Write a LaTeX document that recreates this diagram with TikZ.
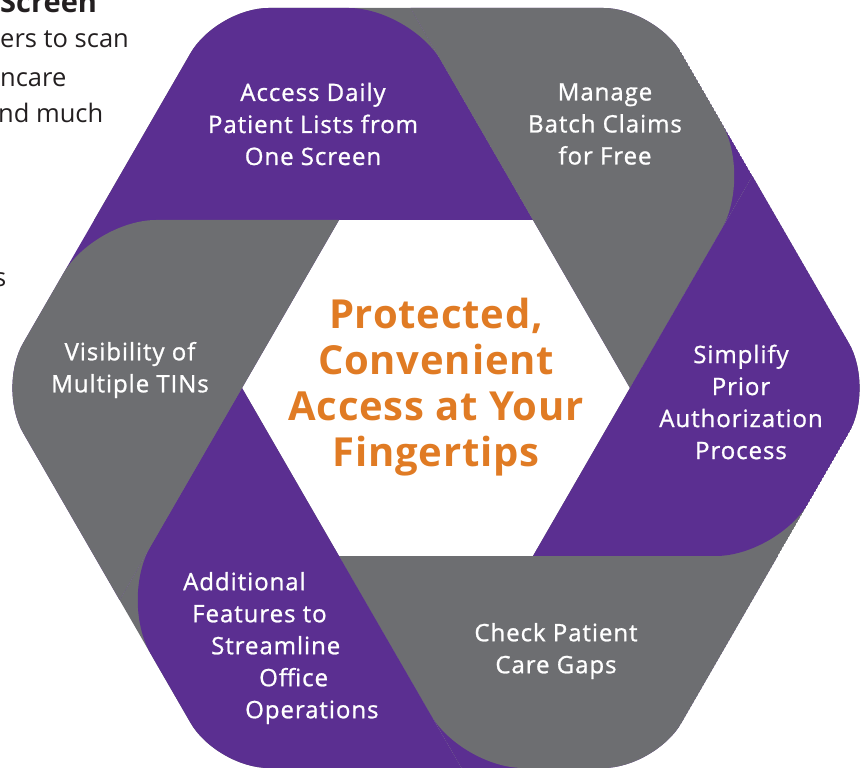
\documentclass[tikz,border=0pt]{standalone}
\usepackage{fontspec}
\setmainfont{Open Sans}
\newfontfamily\bladefont{Open Sans}[FakeBold=1, LetterSpace=4]
\newfontfamily\hubfont{Open Sans}[LetterSpace=2]
\definecolor{ringpurple}{RGB}{91,47,145}
\definecolor{ringgray}{RGB}{109,110,113}
\definecolor{titleorange}{RGB}{224,123,36}
\definecolor{bodytext}{RGB}{35,31,32}
\tikzset{
  blade label/.style={text=white, align=center, inner sep=0pt, font=\bladefont\fontsize{24}{32}\selectfont},
  hub title/.style={text=titleorange, align=center, inner sep=0pt, font=\hubfont\fontsize{40}{46}\selectfont\bfseries},
  cut text/.style={text=bodytext, anchor=base west, inner sep=0pt, font=\fontsize{25.5}{36}\selectfont},
}
\begin{document}
\begin{tikzpicture}[x=1pt,y=1pt]
\useasboundingbox (-436,-380) rectangle (426,388);
\begin{scope}
  \clip[rounded corners=52] (0,380) -- (-219.4,380) -- (-438.8,0) -- (-219.4,-380) -- (219.4,-380) -- (438.8,0) -- (219.4,380) -- cycle;
  \foreach \ang/\upper/\lower in {0/ringpurple/ringgray, -60/ringgray/ringpurple, -120/ringpurple/ringgray,
      -180/ringgray/ringpurple, -240/ringpurple/ringgray, -300/ringgray/ringpurple}{
    \begin{scope}[rotate=\ang]
      \fill[\lower] (97,168) -- (-25.4,380) -- (-219.4,380) -- (-341.8,168) -- cycle;
      \clip (97,168) -- (-25.4,380) -- (-219.4,380) -- (-341.8,168) -- cycle;
      \fill[\upper, rounded corners=62] (-2025.4,380) -- (-25.4,380) -- (974.6,-1352) -- cycle;
    \end{scope}
  }
\end{scope}

\node[hub title] (hub) at (0,1) {Protected,\\Convenient\\Access at Your\\Fingertips};
\node[blade label] (access) at (-123,264) {Access Daily\\Patient Lists from\\One Screen};
\node[blade label] (manage) at (169,264) {Manage\\Batch Claims\\for Free};
\node[blade label] (simplify) at (305,-14) {Simplify\\Prior\\Authorization\\Process};
\node[blade label] (gaps) at (120,-263) {Check Patient\\Care Gaps};
\node[blade label, align=left, anchor=west] (extras) at (-253,-260)
  {Additional\\\hspace*{9pt}Features to\\\hspace*{28pt}Streamline\\\hspace*{76pt}Office\\\hspace*{62pt}Operations};
\node[blade label] (tins) at (-306,18) {Visibility of\\Multiple TINs};

\node[cut text, font=\fontsize{29}{36}\selectfont\bfseries] (screen) at (-436,375) {Screen};
\node[cut text] (scan) at (-436,340) {ers to scan};
\node[cut text] (care) at (-436,301) {ncare};
\node[cut text] (much) at (-438,265) {nd much};
\node[cut text] (tail) at (-442,101) {s};
\end{tikzpicture}
\end{document}
